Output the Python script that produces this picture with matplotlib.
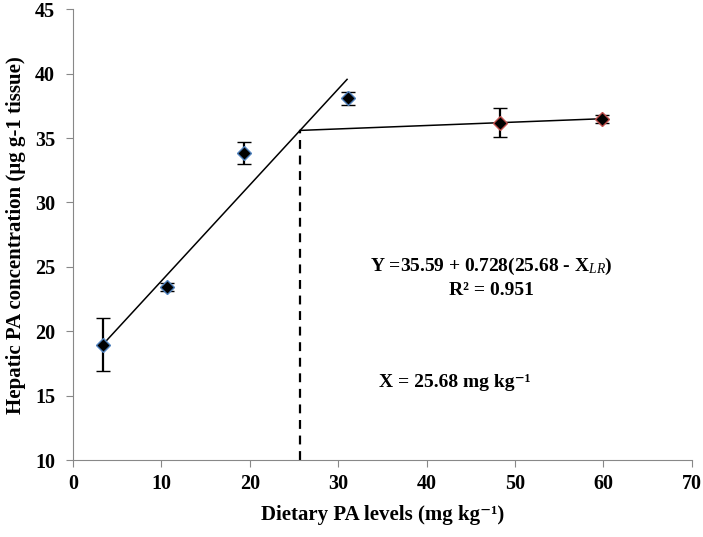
import matplotlib.pyplot as plt

# data
dose = [3.4, 10.6, 19.3, 31.1, 48.3, 59.8]
conc = [18.95, 23.45, 33.85, 38.1, 36.2, 36.45]
err = [2.05, 0.3, 0.85, 0.5, 1.15, 0.3]
edge = ['#4f81bd', '#4f81bd', '#4f81bd', '#4f81bd', '#c0504d', '#c0504d']

# broken-line model
bp_x, bp_y = 25.68, 35.59
rise_x = [3.4, 31.0]
rise_y = [19.0, 39.55]
plateau_x = [25.68, 60.0]
plateau_y = [35.59, 36.5]

plt.rcParams['font.family'] = ['Liberation Serif', 'DejaVu Serif']
plt.rcParams['mathtext.fontset'] = 'custom'
plt.rcParams['mathtext.rm'] = 'Liberation Serif:bold'
plt.rcParams['mathtext.it'] = 'Liberation Serif:italic'

fig = plt.figure(figsize=(7.03, 5.37), dpi=100)
ax = fig.add_axes([0.104, 0.143, 0.880, 0.840])

ax.plot(rise_x, rise_y, color='black', lw=1.1)
ax.plot(plateau_x, plateau_y, color='black', lw=1.1)
ax.plot([bp_x, bp_x], [10, bp_y], color='black', lw=1.6, ls=(0, (4, 3)))

for x, y, e, c in zip(dose, conc, err, edge):
    ax.errorbar(x, y, yerr=e, fmt='D', color='black', mfc='black', mec=c,
                ms=7, mew=1, ecolor='black', elinewidth=1.6, capsize=5, capthick=1.6)

ax.text(47.3, 25.05, r'Y =35.59 + 0.728(25.68 - X$_{\it{LR}}$)', ha='center', va='center',
        fontsize=14, fontweight='bold')
ax.text(47.3, 23.15, 'R² = 0.951', ha='center', va='center', fontsize=14, fontweight='bold')
ax.text(43.2, 16.05, 'X = 25.68 mg kg⁻¹', ha='center', va='center',
        fontsize=14, fontweight='bold')

ax.set_xlim(0, 70)
ax.set_ylim(10, 45)
ax.set_xticks(range(0, 71, 10))
ax.set_yticks(range(10, 46, 5))
ax.spines['top'].set_visible(False)
ax.spines['right'].set_visible(False)
for s in ['left', 'bottom']:
    ax.spines[s].set_color('#888888')
ax.tick_params(axis='both', colors='#888888', labelcolor='black', labelsize=14.5,
               direction='out', length=5)
ax.tick_params(axis='x', pad=5)
ax.tick_params(axis='y', pad=8)
for lab in ax.get_xticklabels() + ax.get_yticklabels():
    lab.set_fontweight('bold')

ax.set_xlabel('Dietary PA levels (mg kg⁻¹)', fontsize=15, fontweight='bold', labelpad=8)
ax.set_ylabel('Hepatic PA concentration (µg g-1 tissue)', fontsize=15, fontweight='bold', labelpad=6)

fig.savefig('out.png', dpi=100)
